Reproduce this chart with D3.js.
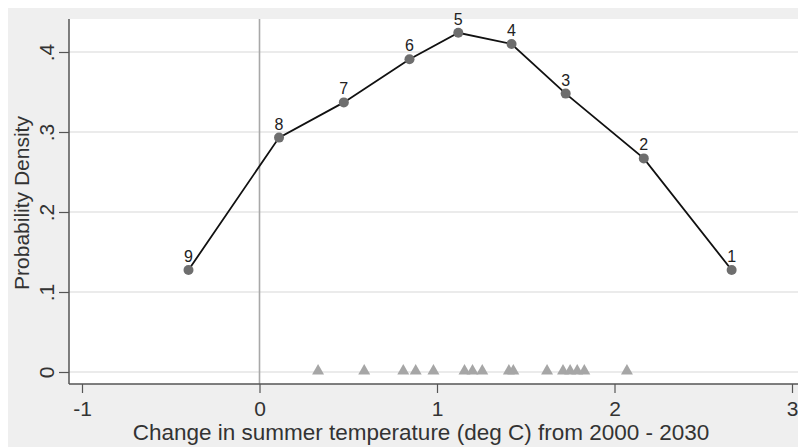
<!DOCTYPE html>
<html>
<head>
<meta charset="utf-8">
<script src="https://cdn.jsdelivr.net/npm/d3@7"></script>
<style>
  html, body { margin: 0; padding: 0; background: #ffffff; }
  svg { display: block; font-family: "Liberation Sans", Arial, Helvetica, sans-serif; }
</style>
</head>
<body>
<svg id="chart" width="798" height="447"></svg>
<script>
// Density estimate at nine bin centres (labelled 9..1 from left to right)
const pointLabels = ["9", "8", "7", "6", "5", "4", "3", "2", "1"];
const pointX = [-0.40, 0.11, 0.475, 0.845, 1.12, 1.42, 1.725, 2.165, 2.66];
const pointY = [0.1275, 0.293, 0.337, 0.391, 0.424, 0.410, 0.348, 0.267, 0.1275];

// Individual model projections shown as a rug at zero
const rugX = [0.33, 0.59, 0.81, 0.88, 0.98, 1.155, 1.20, 1.255, 1.405, 1.43,
              1.62, 1.71, 1.75, 1.79, 1.83, 2.07];

const xTicks = [-1, 0, 1, 2, 3];
const xTickLabels = ["-1", "0", "1", "2", "3"];
const yTicks = [0, 0.1, 0.2, 0.3, 0.4];
const yTickLabels = ["0", ".1", ".2", ".3", ".4"];
const xTitle = "Change in summer temperature (deg C) from 2000 - 2030";
const yTitle = "Probability Density";

const svg = d3.select("#chart");
const W = 798, H = 447;

const plot = { left: 69, right: 798, top: 19, bottom: 384 };

const x = d3.scaleLinear().domain([-1, 3]).range([82, 792]);
const y = d3.scaleLinear().domain([0, 0.4]).range([372, 52]);

// Graph region and plot region backgrounds
svg.append("rect").attr("x", 8).attr("y", 8).attr("width", W - 8).attr("height", H - 8)
  .attr("fill", "#efefef");
svg.append("rect").attr("x", plot.left).attr("y", plot.top)
  .attr("width", plot.right - plot.left).attr("height", plot.bottom - plot.top)
  .attr("fill", "#ffffff");

// Horizontal gridlines
svg.append("g").selectAll("line").data(yTicks).join("line")
  .attr("x1", plot.left).attr("x2", plot.right)
  .attr("y1", d => y(d)).attr("y2", d => y(d))
  .attr("stroke", "#e4e4e4").attr("stroke-width", 1.6);

// Reference line at zero change
svg.append("line")
  .attr("x1", x(0)).attr("x2", x(0))
  .attr("y1", plot.top).attr("y2", plot.bottom)
  .attr("stroke", "#a8a8a8").attr("stroke-width", 1.6);

// Y axis
const yAxis = d3.axisLeft(y).tickValues(yTicks).tickSize(10).tickPadding(10)
  .tickFormat((d, i) => yTickLabels[i]);
const gy = svg.append("g").attr("transform", `translate(${plot.left},0)`).call(yAxis);
gy.select(".domain").remove();
gy.selectAll(".tick line").attr("stroke", "#555").attr("stroke-width", 1.2);
gy.selectAll(".tick text")
  .attr("font-size", 21).attr("fill", "#333")
  .attr("x", 0).attr("dy", null)
  .attr("text-anchor", "middle")
  .attr("transform", "translate(-23,0) rotate(-90)")
  .attr("dominant-baseline", "central");
svg.append("line").attr("x1", plot.left).attr("x2", plot.left)
  .attr("y1", plot.top).attr("y2", plot.bottom)
  .attr("stroke", "#555").attr("stroke-width", 1.5);

// X axis
const xAxis = d3.axisBottom(x).tickValues(xTicks).tickSize(9).tickPadding(8)
  .tickFormat((d, i) => xTickLabels[i]);
const gx = svg.append("g").attr("transform", `translate(0,${plot.bottom})`).call(xAxis);
gx.select(".domain").remove();
gx.selectAll(".tick line").attr("stroke", "#555").attr("stroke-width", 1.2);
gx.selectAll(".tick text").attr("font-size", 21).attr("fill", "#333")
  .attr("y", 18).attr("dy", "0.71em").attr("transform", "translate(0,-1)");
svg.append("line").attr("x1", plot.left).attr("x2", plot.right)
  .attr("y1", plot.bottom).attr("y2", plot.bottom)
  .attr("stroke", "#555").attr("stroke-width", 1.5);

// Axis titles
svg.append("text").attr("x", 421).attr("y", 440)
  .attr("text-anchor", "middle").attr("font-size", 22.5).attr("fill", "#333")
  .text(xTitle);
svg.append("text")
  .attr("transform", "translate(29,203) rotate(-90)")
  .attr("text-anchor", "middle").attr("font-size", 21).attr("fill", "#333")
  .text(yTitle);

// Rug of projections
svg.append("g").selectAll("path").data(rugX).join("path")
  .attr("d", d3.symbol().type(d3.symbolTriangle).size(62))
  .attr("transform", d => `translate(${x(d)},${y(0) - 1})`)
  .attr("fill", "#a6a6a6");

// Density line
const pts = pointX.map((d, i) => ({ x: d, y: pointY[i], label: pointLabels[i] }));
svg.append("path").datum(pts)
  .attr("d", d3.line().x(d => x(d.x)).y(d => y(d.y)))
  .attr("fill", "none").attr("stroke", "#111").attr("stroke-width", 1.8);

svg.append("g").selectAll("circle").data(pts).join("circle")
  .attr("cx", d => x(d.x)).attr("cy", d => y(d.y)).attr("r", 5)
  .attr("fill", "#6e6e6e");

svg.append("g").selectAll("text").data(pts).join("text")
  .attr("x", d => x(d.x)).attr("y", d => y(d.y) - 8)
  .attr("text-anchor", "middle").attr("font-size", 16).attr("fill", "#222")
  .text(d => d.label);
</script>
</body>
</html>
